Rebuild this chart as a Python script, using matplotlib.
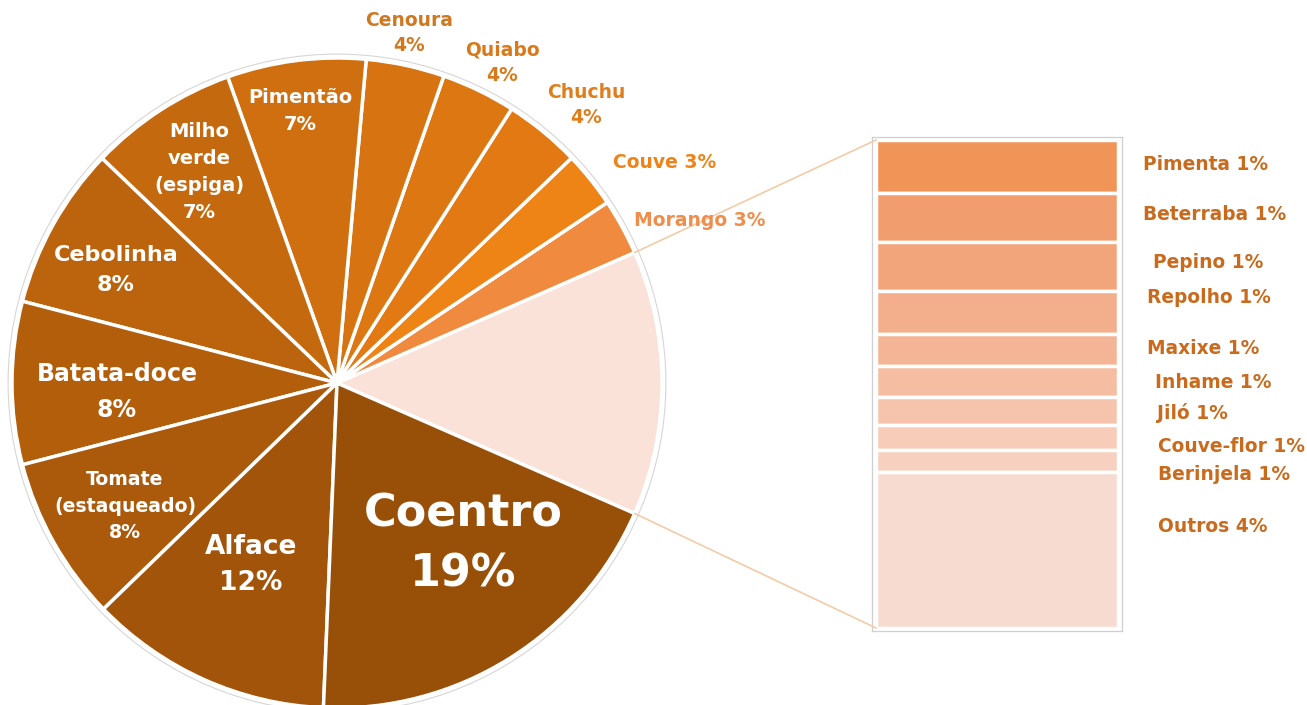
import numpy as np
import matplotlib
matplotlib.use("Agg")
import matplotlib.pyplot as plt
from matplotlib.patches import Circle, ConnectionPatch

# ---- data (% of area) ----
# main pie, counter-clockwise starting from the grouped "others" slice
pie_names = ["Morango", "Couve", "Chuchu", "Quiabo", "Cenoura", "Pimentão",
             "Milho\nverde\n(espiga)", "Cebolinha", "Batata-doce",
             "Tomate\n(estaqueado)", "Alface", "Coentro"]
pie_values = [2.8, 2.8, 3.8, 3.7, 3.9, 6.9, 7.4, 8.1, 8.1, 8.2, 12.1, 19.1]

# breakdown of the grouped slice, top to bottom
bar_names = ["Pimenta", "Beterraba", "Pepino", "Repolho", "Maxixe", "Inhame",
             "Jiló", "Couve-flor", "Berinjela", "Outros"]
bar_values = [1.44, 1.30, 1.32, 1.17, 0.86, 0.85, 0.75, 0.68, 0.59, 4.20]

pie_colors = ["#F08A3E", "#EE8316", "#E27913", "#DD7712", "#D77311", "#CF6F10",
              "#C5690E", "#BC640D", "#B35E0B", "#AB590B", "#A2550A", "#985008"]
group_color = "#FBE2D9"
bar_colors = ["#F09458", "#F19D6D", "#F2A47B", "#F3AF8B", "#F4B597", "#F5BDA2",
              "#F6C3AC", "#F7CCB9", "#F8D0C0", "#F8DBD0"]

W, H = 1307, 705
FONT = "DejaVu Sans"


def fx(x):
    return x / W


def fy(y):
    return 1 - y / H


fig = plt.figure(figsize=(W / 100, H / 100), dpi=100)
fig.patch.set_facecolor("white")

# ---- pie ----
cx, cy, r = 337, 383, 325
lim = 1.03
ax_pie = fig.add_axes([fx(cx - r * lim), fy(cy + r * lim), 2 * r * lim / W, 2 * r * lim / H])
group_total = sum(bar_values)
values = [group_total] + pie_values
colors = [group_color] + pie_colors
total = sum(values)
start = -group_total / total * 360 / 2
ax_pie.pie(values, colors=colors, startangle=start, counterclock=True,
           wedgeprops=dict(edgecolor="white", linewidth=2.5))
ax_pie.add_patch(Circle((0, 0), 1.012, fill=False, edgecolor="#d6d6d6", lw=0.8))
ax_pie.set_xlim(-lim, lim)
ax_pie.set_ylim(-lim, lim)
ax_pie.set_aspect("equal")
ax_pie.axis("off")

# ---- stacked bar ----
bx0, bx1, by0, by1 = 872, 1122, 137, 631
ax_bar = fig.add_axes([fx(bx0), fy(by1), (bx1 - bx0) / W, (by1 - by0) / H])
bottoms = np.concatenate([[0], np.cumsum(bar_values)[:-1]])
ax_bar.bar(np.zeros(len(bar_values)), bar_values, bottom=bottoms, width=1.0,
           color=bar_colors, edgecolor="white", linewidth=2.5)
pad_x = 4 / 242
pad_y = 3 * group_total / 488
ax_bar.set_xlim(-0.5 - pad_x, 0.5 + pad_x)
ax_bar.set_ylim(group_total + pad_y, -pad_y)
ax_bar.set_xticks([])
ax_bar.set_yticks([])
for s in ax_bar.spines.values():
    s.set_color("#cfcfcf")
    s.set_linewidth(0.9)

# connector lines from the grouped slice to the bar
half = np.deg2rad(group_total / total * 360 / 2)
for sign, yb in [(1, 0), (-1, group_total)]:
    con = ConnectionPatch(xyA=(np.cos(half), sign * np.sin(half)), coordsA=ax_pie.transData,
                          xyB=(-0.5, yb), coordsB=ax_bar.transData,
                          color="#F4CBA6", lw=1.2)
    fig.add_artist(con)

# ---- labels ----
def pct(v):
    return f"{v:.0f}%"


# inside labels (white): index -> (x, y, size, linespacing)
inside = {
    11: (463, 544, 32, 1.52),
    10: (251, 565, 19, 1.5),
    9: (125, 506, 13.6, 1.48),
    8: (117, 392, 17, 1.68),
    7: (116, 270, 16, 1.6),
    6: (199, 172, 14, 1.53),
    5: (300, 111, 14, 1.52),
}
for i, (x, y, size, ls) in inside.items():
    fig.text(fx(x), fy(y), pie_names[i] + "\n" + pct(pie_values[i]),
             ha="center", va="center", color="white", fontsize=size,
             fontweight="bold", family=FONT, linespacing=ls)

# outside labels
outside = {
    4: (409, 33, "\n", "#D07820"),
    3: (502, 63, "\n", "#D97A1A"),
    2: (586, 105, "\n", "#E07E1C"),
    1: (665, 163, " ", "#EE8318"),
    0: (700, 221, " ", "#F08D4A"),
}
for i, (x, y, sep, col) in outside.items():
    fig.text(fx(x), fy(y), pie_names[i] + sep + pct(pie_values[i]),
             ha="center", va="center", color=col, fontsize=13.5,
             fontweight="bold", family=FONT, linespacing=1.4)

# bar labels
bar_label_pos = [(1143, 164), (1143, 215), (1153, 262), (1147, 297), (1147, 348),
                 (1155, 382), (1157, 413), (1158, 447), (1158, 474), (1158, 526)]
for name, v, (x, y) in zip(bar_names, bar_values, bar_label_pos):
    fig.text(fx(x), fy(y), f"{name} {pct(v)}", ha="left", va="center",
             color="#C96A1C", fontsize=13.4, fontweight="bold", family=FONT)

fig.savefig("out.png", dpi=100, facecolor="white")
